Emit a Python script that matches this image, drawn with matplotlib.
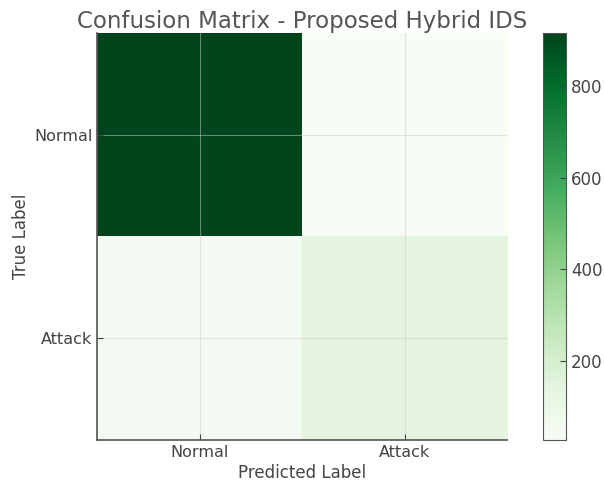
import numpy as np
import matplotlib.pyplot as plt

labels = ["Normal", "Attack"]
# rows: true label, cols: predicted label
cm = np.array([[916, 27],
               [50, 140]])

plt.rcParams['text.color'] = '#444444'
plt.rcParams['axes.labelcolor'] = '#444444'
plt.rcParams['xtick.color'] = '#444444'
plt.rcParams['ytick.color'] = '#444444'

fig = plt.figure(figsize=(6.04, 4.88), dpi=100)
ax = fig.add_axes([0.161, 0.098, 0.679, 0.834])

im = ax.imshow(cm, cmap='Greens', interpolation='nearest', aspect='auto')
ax.set_title("Confusion Matrix - Proposed Hybrid IDS", fontsize=16.5, pad=3,
             color='#555555')
ax.set_xticks(range(len(labels)))
ax.set_yticks(range(len(labels)))
ax.set_xticklabels(labels, fontsize=11.5)
ax.set_yticklabels(labels, fontsize=11.5)
ax.set_xlabel("Predicted Label", fontsize=12, labelpad=3)
ax.set_ylabel("True Label", fontsize=12, labelpad=3)
ax.tick_params(direction='in', length=4)
ax.grid(True, color='#cccccc', linewidth=0.8, alpha=0.5)
for s in ['top', 'right']:
    ax.spines[s].set_visible(False)
for s in ['left', 'bottom']:
    ax.spines[s].set_color('#555555')
    ax.spines[s].set_linewidth(1.2)

cax = fig.add_axes([0.899, 0.098, 0.038, 0.834])
cb = fig.colorbar(im, cax=cax)
cb.set_ticks([200, 400, 600, 800])
cb.ax.tick_params(direction='in', length=4, labelsize=12)
cb.outline.set_edgecolor('#555555')

fig.savefig("out.png", dpi=100)
